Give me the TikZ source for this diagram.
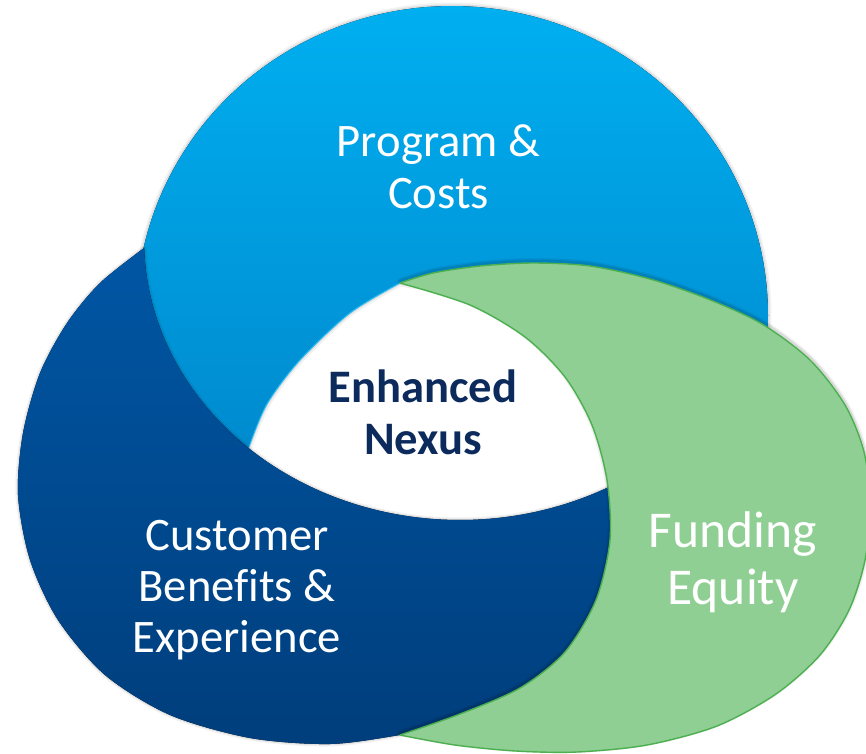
\documentclass[tikz,border=0pt]{standalone}
\usepackage{fontspec}
\setmainfont{Carlito}[Ligatures=CommonOff]
\definecolor{lbtop}{RGB}{0,175,240}
\definecolor{lbbot}{RGB}{0,136,204}
\definecolor{dbtop}{RGB}{0,86,164}
\definecolor{dbbot}{RGB}{0,62,124}
\definecolor{grfill}{RGB}{144,207,147}
\definecolor{grline}{RGB}{76,175,80}
\definecolor{navy}{RGB}{12,43,92}
\definecolor{lbhi}{RGB}{40,190,245}
\begin{document}
\begin{tikzpicture}[x=1pt,y=-1pt,
  lbl/.style={text=white, align=center, inner sep=0pt, anchor=base,
    font=\fontsize{46.6pt}{51.3pt}\selectfont},
  nexuslbl/.style={text=navy, align=center, inner sep=0pt, anchor=base,
    font=\fontsize{46.6pt}{52pt}\selectfont\bfseries},
  glow/.style={draw=black, fill=none, line join=round}]
\useasboundingbox (0,0) rectangle (866,753);

% light blue crescent (lowest layer): outer edge is an ellipse arc
\def\lbpath{plot[domain=-170:6, samples=90, variable=\t] ({452+316*cos(\t)}, {315+309*sin(\t)})
 -- plot[smooth] coordinates {(765,345) (700,320) (600,290) (500,285) (440,288) (400,283)}
 -- plot[smooth] coordinates {(400,283) (350,313) (300,360) (267,404) (247,451) (238,480)}
 -- (150,420) -- (132,330) -- cycle}
% dark blue crescent: inner edge is an ellipse arc
\def\dbpath{plot[smooth] coordinates {(144,248) (100,283) (67,323) (40,373) (23,433) (18,495) (30,560) (58,620) (105,675) (170,715) (250,738) (330,744) (400,735) (470,722)}
 -- (540,700) -- (600,650) -- (640,560)
 -- plot[domain=50:178.4, samples=90, variable=\t] ({460+316*cos(\t)}, {240+280*sin(\t)})
 -- cycle}
% green crescent (top layer)
\def\grpath{plot[smooth] coordinates {(400,283) (433,273) (480,266) (533,263) (590,266) (650,279) (708,299) (762,324) (810,360) (845,405) (864,452) (870,505) (865,560) (849,610) (820,655) (776,694) (717,726) (647,745) (577,752) (516,751) (455,745) (400,735)}
 -- plot[smooth] coordinates {(400,735) (460,714) (520,688) (565,652) (596,600) (610,540) (607,480) (592,425) (565,377) (525,337) (470,305) (400,283)}
 -- cycle}

% light blue
\path[glow, line width=7pt, opacity=0.05] \lbpath;
\path[glow, line width=3.5pt, opacity=0.08] \lbpath;
\fill[top color=lbtop, bottom color=lbbot] \lbpath;
\draw[lbhi, line width=1pt] plot[smooth] coordinates {(400,283) (350,313) (300,360) (267,404) (249,447)};

% dark blue
\path[glow, line width=5pt, opacity=0.05] \dbpath;
\path[glow, line width=2.5pt, opacity=0.07] \dbpath;
\fill[top color=dbtop, bottom color=dbbot] \dbpath;

% green
\begin{scope}[transform canvas={yshift=2pt}]
\path[glow, line width=6pt, opacity=0.06] \grpath;
\path[glow, line width=3pt, opacity=0.10] \grpath;
\end{scope}
\fill[grfill, draw=grline, line width=1.4pt, line join=round] \grpath;

% labels (anchor = baseline of last line)
\node[lbl] (prog) at (438.5,208) {Program \&\\Costs};
\node[nexuslbl] (nexus) at (423,454) {Enhanced\\Nexus};
\node[lbl] (cust) at (237,652.7) {Customer\\Benefits \&\\Experience};
\node[lbl, font=\fontsize{51.6pt}{57pt}\selectfont] (fund) at (733,604) {Funding\\Equity};
\end{tikzpicture}
\end{document}
